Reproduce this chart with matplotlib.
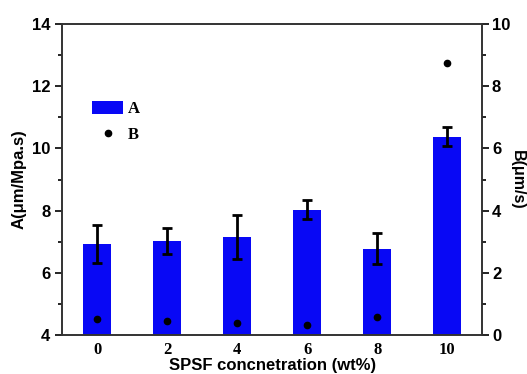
import numpy as np
import matplotlib.pyplot as plt
from matplotlib.ticker import MultipleLocator

# SPSF content (wt%)
conc = [0, 2, 4, 6, 8, 10]
# A values (um/Mpa.s) with error
a_vals = [6.93, 7.02, 7.15, 8.03, 6.78, 10.38]
a_err = [0.61, 0.41, 0.71, 0.31, 0.51, 0.31]
# B values (um/s)
b_vals = [0.51, 0.44, 0.39, 0.34, 0.57, 8.73]

sans = 'Liberation Sans'
serif = 'Liberation Serif'

fig = plt.figure(figsize=(5.27, 3.74), dpi=100)
ax = fig.add_axes([0.118, 0.104, 0.797, 0.832])

bars = ax.bar(conc, a_vals, width=0.8, color='#0808f5', bottom=0,
              yerr=a_err, ecolor='black',
              error_kw=dict(elinewidth=2, capsize=3.5, capthick=2), label='A')
ax.set_xlim(-1, 11)
ax.set_ylim(4, 14)
ax.yaxis.set_major_locator(MultipleLocator(2))
ax.yaxis.set_minor_locator(MultipleLocator(1))
ax.set_xticks(conc)
ax.tick_params(axis='x', length=0, pad=5)
ax.tick_params(axis='y', which='major', length=5, width=1.2, direction='out')
ax.tick_params(axis='y', which='minor', length=3, width=1.2, direction='out')
for lbl in ax.get_xticklabels():
    lbl.set_family(serif)
    lbl.set_fontweight('bold')
    lbl.set_fontsize(12)
for lbl in ax.get_yticklabels():
    lbl.set_family(sans)
    lbl.set_fontweight('bold')
    lbl.set_fontsize(12)
ax.set_xlabel('SPSF concnetration (wt%)', family=sans, fontweight='bold',
              fontsize=12, labelpad=0)
ax.set_ylabel('A(\u03bcm/Mpa.s)', family=sans, fontweight='bold', fontsize=12,
              labelpad=4)

ax2 = ax.twinx()
pts, = ax2.plot(conc, b_vals, 'o', color='black', markersize=4.5, label='B')
ax2.set_ylim(0, 10)
ax2.yaxis.set_major_locator(MultipleLocator(2))
ax2.yaxis.set_minor_locator(MultipleLocator(1))
ax2.tick_params(axis='y', which='major', length=5, width=1.2, direction='out',
                pad=2)
ax2.tick_params(axis='y', which='minor', length=3, width=1.2, direction='out')
for lbl in ax2.get_yticklabels():
    lbl.set_family(sans)
    lbl.set_fontweight('bold')
    lbl.set_fontsize(12)
ax2.set_ylabel('B(\u03bcm/s)', family=sans, fontweight='bold', fontsize=11.5,
               rotation=270, ha='center', va='center')
ax2.yaxis.set_label_coords(1.083, 0.5)

for a in (ax, ax2):
    for s in a.spines.values():
        s.set_linewidth(1.2)
        s.set_color('#333333')

handles = [bars, pts]
leg = ax.legend(handles, ['A', 'B'], loc='upper left',
                bbox_to_anchor=(0.036, 0.80), frameon=False,
                prop=dict(family=serif, weight='bold', size=12),
                handlelength=1.85, handleheight=0.8, handletextpad=0.3,
                labelspacing=0.55)

fig.savefig('out.png', dpi=100)
